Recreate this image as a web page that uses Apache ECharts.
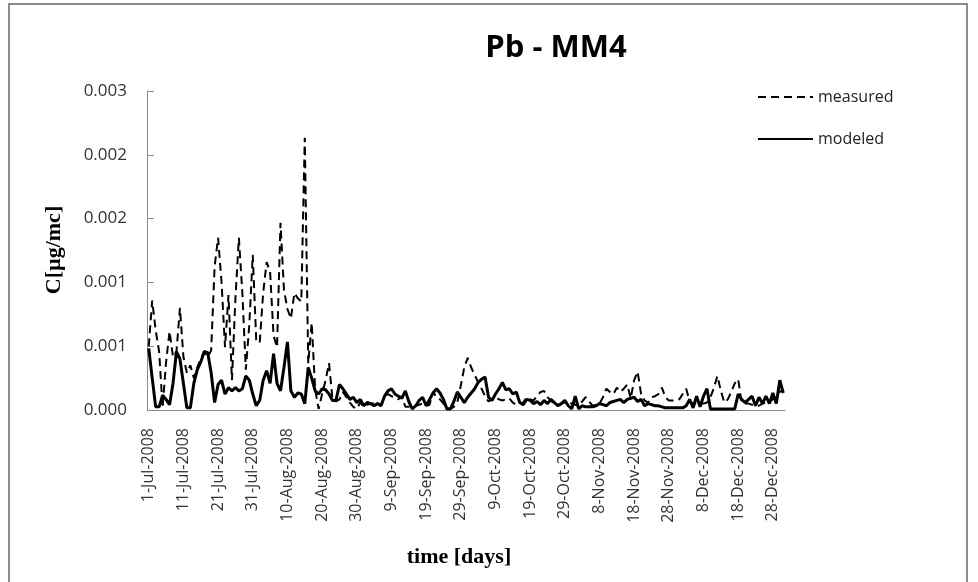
<!DOCTYPE html>
<html>
<head>
<meta charset="utf-8">
<script src="https://cdn.jsdelivr.net/npm/echarts@6/dist/echarts.min.js"></script>
<style>
html,body{margin:0;padding:0;background:#fff;}
#chart{width:978px;height:582px;}
</style>
</head>
<body>
<div id="chart"></div>
<script>
// ---- data ----
const chartTitle = 'Pb - MM4';
const seriesNames = ['measured', 'modeled'];
const startDate = [2008, 6, 1];   // 1-Jul-2008 (month index 6)
const dayCount = 184;             // 1-Jul-2008 .. 31-Dec-2008
const yTicks = [0, 0.0006, 0.0012, 0.0018, 0.0024, 0.003];

const measured = [
  6.0e-4, 10.3e-4, 7.5e-4, 5.5e-4, 0.2e-4, 4.5e-4, 7.4e-4, 5.0e-4, 5.5e-4, 9.6e-4,
  5.0e-4, 3.5e-4, 4.2e-4, 3.0e-4, 4.0e-4, 4.8e-4, 5.4e-4, 5.0e-4, 5.6e-4, 13.5e-4,
  16.2e-4, 12.0e-4, 5.9e-4, 10.8e-4, 2.8e-4, 10.5e-4, 16.2e-4, 11.0e-4, 3.8e-4, 8.0e-4,
  14.6e-4, 6.6e-4, 6.3e-4, 11.0e-4, 13.9e-4, 13.0e-4, 7.0e-4, 5.9e-4, 17.6e-4, 11.3e-4,
  9.5e-4, 8.6e-4, 11.0e-4, 10.5e-4, 10.2e-4, 25.6e-4, 4.4e-4, 8.2e-4, 1.9e-4, 0.1e-4,
  1.5e-4, 2.8e-4, 4.4e-4, 1.0e-4, 0.8e-4, 1.0e-4, 1.7e-4, 1.2e-4, 0.7e-4, 0.3e-4,
  0.1e-4, 0.7e-4, 0.3e-4, 0.5e-4, 0.6e-4, 0.6e-4, 0.6e-4, 0.5e-4, 1.3e-4, 1.5e-4,
  1.3e-4, 1.2e-4, 1.0e-4, 1.3e-4, 0.3e-4, 0.3e-4, 0.3e-4, 0.4e-4, 0.5e-4, 0.6e-4,
  0.4e-4, 0.5e-4, 1.7e-4, 1.2e-4, 1.0e-4, 0.6e-4, 0.2e-4, 0.1e-4, 0.3e-4, 0.7e-4,
  2.3e-4, 4.0e-4, 4.9e-4, 4.0e-4, 3.3e-4, 2.6e-4, 2.0e-4, 1.3e-4, 0.8e-4, 1.0e-4,
  1.2e-4, 1.0e-4, 0.9e-4, 1.0e-4, 1.1e-4, 0.7e-4, 0.5e-4, 0.6e-4, 0.7e-4, 1.2e-4,
  1.0e-4, 0.9e-4, 1.3e-4, 1.7e-4, 1.8e-4, 1.2e-4, 0.9e-4, 0.6e-4, 0.5e-4, 0.6e-4,
  0.7e-4, 0.7e-4, 0.6e-4, 0.5e-4, 0.4e-4, 0.8e-4, 1.2e-4, 0.8e-4, 0.4e-4, 0.5e-4,
  0.6e-4, 1.2e-4, 2.0e-4, 1.7e-4, 1.5e-4, 2.1e-4, 1.7e-4, 2.0e-4, 2.4e-4, 1.1e-4,
  2.8e-4, 3.6e-4, 1.5e-4, 0.9e-4, 0.7e-4, 1.2e-4, 1.3e-4, 1.5e-4, 2.1e-4, 1.2e-4,
  0.9e-4, 0.9e-4, 0.9e-4, 1.0e-4, 1.5e-4, 2.0e-4, 0.8e-4, 0.6e-4, 0.6e-4, 0.6e-4,
  0.6e-4, 0.7e-4, 1.2e-4, 2.1e-4, 3.2e-4, 1.8e-4, 0.7e-4, 1.0e-4, 1.7e-4, 2.5e-4,
  2.9e-4, 0.7e-4, 0.6e-4, 0.6e-4, 0.5e-4, 0.5e-4, 0.4e-4, 0.6e-4, 0.7e-4, 0.8e-4,
  1.0e-4, 1.2e-4, 1.7e-4, 1.9e-4
];

const modeled = [
  5.8e-4, 3.0e-4, 0.3e-4, 0.3e-4, 1.4e-4, 1.0e-4, 0.5e-4, 2.5e-4, 5.5e-4, 4.8e-4,
  2.5e-4, 0.2e-4, 0.2e-4, 2.5e-4, 3.8e-4, 4.5e-4, 5.5e-4, 5.4e-4, 3.5e-4, 0.7e-4,
  2.4e-4, 2.8e-4, 1.5e-4, 2.1e-4, 1.8e-4, 2.1e-4, 1.8e-4, 2.0e-4, 3.2e-4, 2.8e-4,
  1.5e-4, 0.4e-4, 0.9e-4, 2.8e-4, 3.7e-4, 2.5e-4, 5.3e-4, 2.5e-4, 1.8e-4, 4.0e-4,
  6.4e-4, 1.8e-4, 1.2e-4, 1.6e-4, 1.5e-4, 0.6e-4, 4.0e-4, 3.0e-4, 1.8e-4, 1.5e-4,
  2.0e-4, 1.9e-4, 1.5e-4, 0.9e-4, 0.9e-4, 2.4e-4, 2.0e-4, 1.5e-4, 1.0e-4, 1.2e-4,
  0.7e-4, 1.0e-4, 0.4e-4, 0.7e-4, 0.6e-4, 0.4e-4, 0.6e-4, 0.4e-4, 1.3e-4, 1.8e-4,
  2.0e-4, 1.5e-4, 1.3e-4, 1.1e-4, 1.8e-4, 0.8e-4, 0.1e-4, 0.4e-4, 0.9e-4, 1.2e-4,
  0.4e-4, 1.0e-4, 1.6e-4, 2.0e-4, 1.6e-4, 1.0e-4, 0.1e-4, 0.1e-4, 0.8e-4, 1.7e-4,
  1.2e-4, 0.7e-4, 1.2e-4, 1.6e-4, 2.0e-4, 2.6e-4, 2.9e-4, 3.1e-4, 1.2e-4, 0.9e-4,
  1.5e-4, 2.0e-4, 2.6e-4, 1.9e-4, 2.0e-4, 1.5e-4, 1.7e-4, 0.7e-4, 0.5e-4, 1.0e-4,
  0.9e-4, 0.6e-4, 0.8e-4, 0.5e-4, 0.9e-4, 0.6e-4, 1.0e-4, 0.7e-4, 0.4e-4, 0.6e-4,
  0.9e-4, 0.4e-4, 0.1e-4, 1.3e-4, 0.1e-4, 0.4e-4, 0.3e-4, 0.3e-4, 0.3e-4, 0.4e-4,
  0.6e-4, 0.5e-4, 0.4e-4, 0.7e-4, 0.8e-4, 0.9e-4, 1.0e-4, 0.7e-4, 1.0e-4, 1.1e-4,
  1.2e-4, 0.8e-4, 1.0e-4, 0.4e-4, 0.6e-4, 0.5e-4, 0.4e-4, 0.4e-4, 0.3e-4, 0.2e-4,
  0.2e-4, 0.2e-4, 0.2e-4, 0.2e-4, 0.2e-4, 0.4e-4, 1.0e-4, 0.2e-4, 1.3e-4, 0.3e-4,
  1.3e-4, 2.0e-4, 0.1e-4, 0.1e-4, 0.1e-4, 0.1e-4, 0.1e-4, 0.1e-4, 0.1e-4, 0.1e-4,
  1.5e-4, 1.0e-4, 0.7e-4, 1.0e-4, 1.3e-4, 0.4e-4, 1.2e-4, 0.6e-4, 1.3e-4, 0.6e-4,
  1.6e-4, 0.6e-4, 2.8e-4, 1.6e-4
];

// ---- category labels (one per day) ----
const monthNames = ['Jan','Feb','Mar','Apr','May','Jun','Jul','Aug','Sep','Oct','Nov','Dec'];
const categories = [];
for (let i = 0; i < dayCount; i++) {
  const d = new Date(Date.UTC(startDate[0], startDate[1], startDate[2] + i));
  categories.push(d.getUTCDate() + '-' + monthNames[d.getUTCMonth()] + '-' + d.getUTCFullYear());
}

const chart = echarts.init(document.getElementById('chart'), null, {renderer: 'canvas'});
const sans = "'Open Sans', 'Noto Sans', sans-serif";
const serif = "'Liberation Serif', 'DejaVu Serif', serif";

chart.setOption({
  animation: false,
  backgroundColor: '#ffffff',
  grid: {left: 147, right: 193, top: 91, bottom: 172, containLabel: false},
  legend: {
    orient: 'vertical',
    left: 757, top: 89, padding: 0,
    itemWidth: 55, itemHeight: 14, itemGap: 26,
    data: seriesNames,
    itemStyle: {opacity: 0},
    textStyle: {fontFamily: sans, fontSize: 16, color: '#222'}
  },
  xAxis: {
    type: 'category',
    data: categories,
    boundaryGap: true,
    axisLine: {lineStyle: {color: '#8c8c8c', width: 1}},
    axisTick: {inside: true, length: 7, interval: 9, lineStyle: {color: '#8c8c8c'}},
    axisLabel: {interval: 9, rotate: 90, margin: 18, fontFamily: sans, fontSize: 16, color: '#333'},
    splitLine: {show: false}
  },
  yAxis: {
    type: 'value',
    min: yTicks[0], max: yTicks[yTicks.length - 1], interval: yTicks[1] - yTicks[0],
    axisLine: {show: true, lineStyle: {color: '#8c8c8c', width: 1}},
    axisTick: {show: true, inside: true, length: 7, lineStyle: {color: '#8c8c8c'}},
    axisLabel: {margin: 20, fontFamily: sans, fontSize: 17, color: '#333', formatter: v => v.toFixed(3)},
    splitLine: {show: false}
  },
  series: [
    {
      name: seriesNames[0], type: 'line', data: measured, symbol: 'none',
      lineStyle: {color: '#000', width: 2, type: [8, 5]}, itemStyle: {color: '#000'}, z: 2
    },
    {
      name: seriesNames[1], type: 'line', data: modeled, symbol: 'none',
      lineStyle: {color: '#000', width: 3, type: 'solid'}, itemStyle: {color: '#000'}, z: 3
    }
  ],
  graphic: [
    {type: 'rect', shape: {x: 9, y: 4, width: 958, height: 610}, style: {fill: 'none', stroke: '#8c8c8c', lineWidth: 2}, silent: true},
    {type: 'text', x: 556, y: 48, style: {text: chartTitle, textAlign: 'center', textVerticalAlign: 'middle', font: "bold 31px " + sans, fill: '#000'}},
    {type: 'text', x: 54, y: 250, rotation: Math.PI / 2, style: {text: 'C[µg/mc]', textAlign: 'center', textVerticalAlign: 'middle', font: "bold 22px " + serif, fill: '#000'}},
    {type: 'text', x: 459, y: 557, style: {text: 'time [days]', textAlign: 'center', textVerticalAlign: 'middle', font: "bold 22px " + serif, fill: '#000'}}
  ]
});
</script>
</body>
</html>
